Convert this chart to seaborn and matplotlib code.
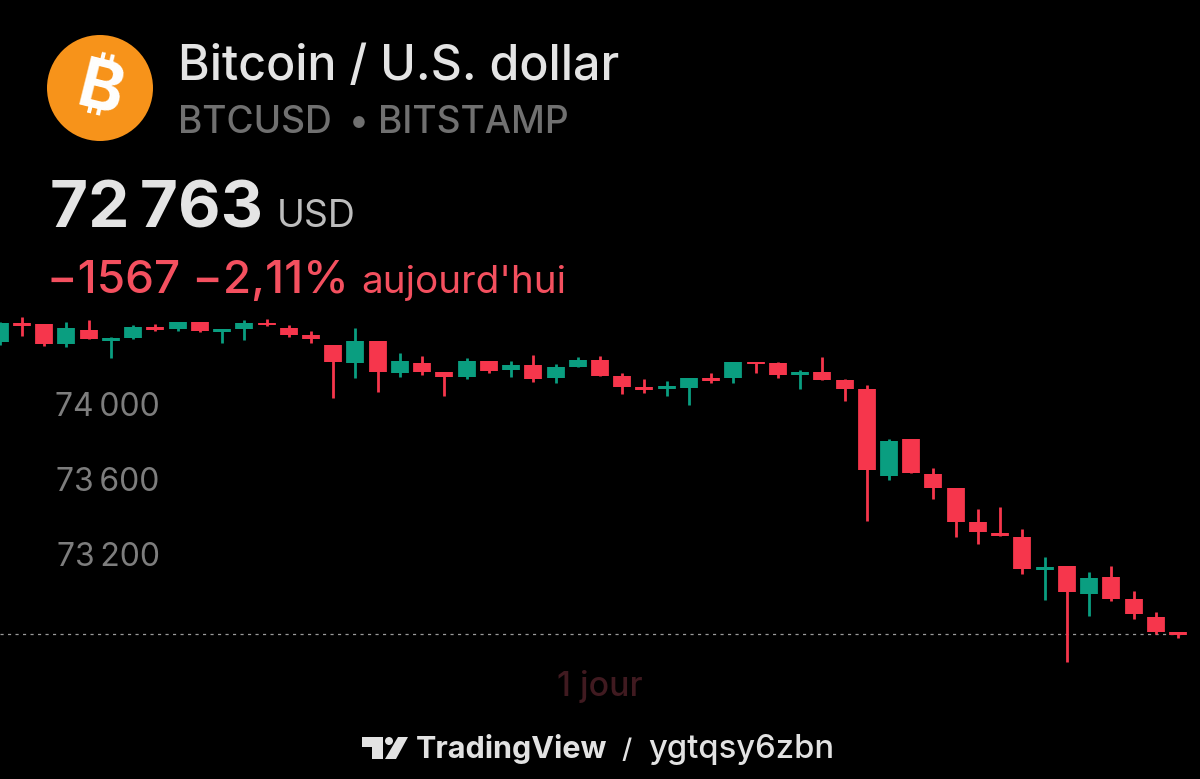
# import the libraries
import pandas as pd
import seaborn as sns
import matplotlib.pyplot as plt
from matplotlib.patches import Circle, Polygon

# candle values, one entry per candle
opens = [74331, 74432, 74427, 74320, 74395, 74336, 74352, 74411, 74400, 74437, 74384, 74400, 74432, 74405,
         74368, 74315, 74219, 74336, 74165, 74219, 74171, 74144, 74229, 74181, 74208, 74139, 74197, 74235,
         74149, 74091, 74080, 74085, 74139, 74139, 74224, 74219, 74155, 74171, 74128, 74080, 73616, 73813,
         73627, 73552, 73371, 73312, 73291, 73115, 73136, 72987, 73077, 72960, 72864, 72784]
highs = [74437, 74464, 74427, 74437, 74448, 74357, 74421, 74427, 74437, 74437, 74400, 74448, 74453, 74421,
         74389, 74315, 74405, 74336, 74272, 74256, 74171, 74245, 74229, 74229, 74261, 74213, 74251, 74256,
         74165, 74133, 74123, 74139, 74165, 74224, 74224, 74224, 74181, 74251, 74133, 74101, 73813, 73813,
         73659, 73552, 73440, 73451, 73333, 73184, 73136, 73104, 73136, 73003, 72891, 72784]
lows = [74315, 74363, 74309, 74304, 74347, 74245, 74347, 74389, 74389, 74384, 74325, 74341, 74416, 74357,
        74325, 74032, 74139, 74064, 74144, 74155, 74043, 74133, 74165, 74144, 74117, 74112, 74197, 74149,
        74053, 74059, 74043, 73995, 74112, 74112, 74165, 74139, 74080, 74128, 74016, 73376, 73595, 73632,
        73493, 73291, 73253, 73296, 73093, 72955, 72624, 72869, 72949, 72853, 72773, 72752]
closes = [74432, 74416, 74320, 74405, 74347, 74352, 74411, 74395, 74437, 74389, 74400, 74432, 74421, 74368,
          74347, 74224, 74336, 74171, 74229, 74171, 74144, 74229, 74176, 74208, 74133, 74197, 74235, 74149,
          74091, 74075, 74096, 74139, 74123, 74224, 74213, 74155, 74171, 74128, 74080, 73648, 73803, 73632,
          73552, 73371, 73317, 73296, 73120, 73131, 72997, 73072, 72960, 72880, 72784, 72768]

# axis ticks and the last price line
tick_values = [74000, 73600, 73200]
tick_labels = ["74\u2009000", "73\u2009600", "73\u2009200"]
price_line = 72772

# colors
RED = "#F6364C"
GREEN = "#0A9E80"

# build long tables, one for the wicks and one for the bodies
wick_rows = []
body_rows = []
for i, (o, h, l, c) in enumerate(zip(opens, highs, lows, closes)):
    side = "up" if c >= o else "down"
    wick_rows += [{"candle": i, "price": h, "side": side}, {"candle": i, "price": l, "side": side}]
    body_rows += [{"candle": i, "price": o, "side": side}, {"candle": i, "price": c, "side": side}]
wicks = pd.DataFrame(wick_rows)
bodies = pd.DataFrame(body_rows)

sns.set_theme(style="dark", rc={"figure.facecolor": "black", "axes.facecolor": "black"})
plt.rcParams["font.family"] = ["Inter", "Noto Sans", "Roboto", "Open Sans", "Lato", "DejaVu Sans"]

fig = plt.figure(figsize=(12, 7.79), dpi=100)

# chart axes fill the whole figure
ax = fig.add_axes([0, 0, 1, 1])
palette = {"up": GREEN, "down": RED}
sns.lineplot(data=wicks, x="candle", y="price", units="candle", estimator=None, hue="side", palette=palette,
             linewidth=2.0, legend=False, solid_capstyle="butt", ax=ax)
sns.lineplot(data=bodies, x="candle", y="price", units="candle", estimator=None, hue="side", palette=palette,
             linewidth=12.8, legend=False, solid_capstyle="butt", ax=ax)
ax.axhline(price_line, xmax=0.985, color="#9a9a9a", linewidth=0.9, linestyle=(0, (2.5, 3.5)), zorder=1)

# 22.23 px per candle, 75 px per 400 USD
ax.set_xlim(0.01, 53.99)
ax.set_ylim(74000 - (779 - 404) * 16 / 3, 74000 + 404 * 16 / 3)
ax.set_xlabel("")
ax.set_ylabel("")
ax.set_xticks([])
ax.set_yticks(tick_values)
ax.set_yticklabels(tick_labels, color="#7d7d7d", fontsize=23)
ax.tick_params(axis="y", length=0, pad=-115)
ax.grid(False)
for spine in ax.spines.values():
    spine.set_visible(False)

# overlay in pixel coordinates for the header and footer
top = fig.add_axes([0, 0, 1, 1])
top.set_xlim(0, 1200)
top.set_ylim(779, 0)
top.axis("off")
top.patch.set_alpha(0)

# bitcoin logo
top.add_patch(Circle((100, 88), 53, color="#F7931A", lw=0))
top.text(100, 92, "\u20bf", color="white", fontsize=49, fontweight="bold", rotation=-14, ha="center", va="center")

# header text
top.text(178, 80, "Bitcoin / U.S. dollar", color="#E4E4E4", fontsize=34.8, fontweight="medium", va="baseline")
top.text(178, 133, "BTCUSD", color="#707070", fontsize=26.7, fontweight="medium", va="baseline")
top.text(349, 133, "\u2022", color="#707070", fontsize=26.7, fontweight="medium", va="baseline")
top.text(378, 133, "BITSTAMP", color="#707070", fontsize=26.7, fontweight="medium", va="baseline")
top.text(50, 227, "72\u2009763", color="#E4E4E4", fontsize=47.3, fontweight="bold", va="baseline")
top.text(277, 227, "USD", color="#BDBDBD", fontsize=27, va="baseline")
top.text(47, 293, "\u22121567 \u22122,11%", color="#F4505F", fontsize=33, fontweight="medium", va="baseline")
top.text(361, 293, "aujourd'hui", color="#F4505F", fontsize=27.8, va="baseline")

# footer
top.text(600, 696, "1 jour", color="#401A20", fontsize=24.3, fontweight="medium", ha="center", va="baseline")
top.add_patch(Polygon([(362, 737), (383, 737), (383, 759), (372, 759), (372, 747), (362, 747)], color="#E2E2E2", lw=0))
top.add_patch(Circle((389, 741), 4, color="#E2E2E2", lw=0))
top.add_patch(Polygon([(398, 737), (408, 737), (396, 759), (385, 759)], color="#E2E2E2", lw=0))
top.text(416, 758, "TradingView", color="#E2E2E2", fontsize=22, fontweight="bold", va="baseline")
top.text(621, 758, "/", color="#E2E2E2", fontsize=20, fontweight="medium", va="baseline")
top.text(648, 758, "ygtqsy6zbn", color="#E2E2E2", fontsize=23.6, fontweight="medium", va="baseline")

# save the figure
fig.savefig("out.png", dpi=100, facecolor="black")
